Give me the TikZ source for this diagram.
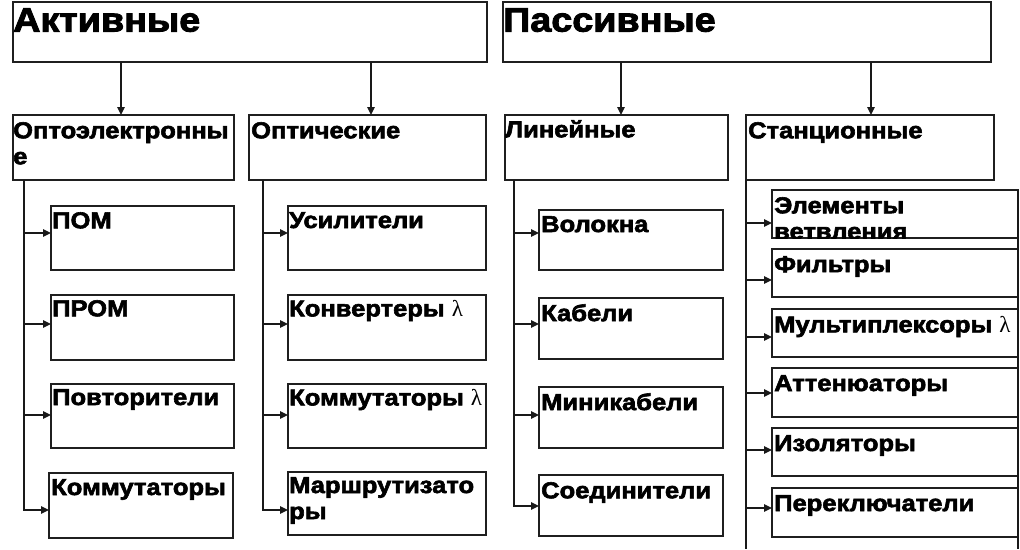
\documentclass[tikz,border=0pt]{standalone}
\usepackage{fontspec}
\setmainfont{Liberation Sans}[BoldFeatures={FakeStretch=1.11,FakeBold=2.6}]
\newfontfamily\lamfont{Liberation Serif}
\usetikzlibrary{arrows.meta}
\newcommand\mkbox[5]{\node[box, minimum width={(#4-#2)*1pt}, minimum height={(#5-#3)*1pt}] (#1) at (#2,#3) {};}
\newcommand\lam{{\lamfont\mdseries λ}}
\begin{document}
\begin{tikzpicture}[x=1pt,y=-1pt,
  box/.style={draw=black!88, line width=1.8pt, inner sep=0pt, outer sep=0pt, anchor=north west},
  conn/.style={draw=black!90, line width=1.4pt, -{Triangle[length=8pt,width=7.5pt]}},
  trunk/.style={draw=black!90, line width=1.4pt},
  big/.style={inner sep=0pt, anchor=north west, font=\bfseries\fontsize{34}{40}\selectfont},
  lbl/.style={inner sep=0pt, anchor=north west, align=left, font=\bfseries\fontsize{23}{26}\selectfont},
]
\useasboundingbox (0,0) rectangle (1020,549);
% level 1
\mkbox{act}{13}{2}{487}{62}
\mkbox{pas}{503}{2}{991}{62}
\node[big] (t-act) at (13,8) {Активные};
\node[big] (t-pas) at (503,8) {Пассивные};
% level 2
\mkbox{opto}{13}{115}{234}{180}
\mkbox{opt}{249}{115}{486}{180}
\mkbox{lin}{505}{115}{728}{180}
\mkbox{stan}{746}{115}{994}{180}
\node[lbl] (t-opto) at (13,122) {Оптоэлектронны\\е};
\node[lbl] (t-opt) at (251,122) {Оптические};
\node[lbl] (t-lin) at (505,120) {Линейные};
\node[lbl] (t-stan) at (748,122) {Станционные};
% level 3, column 1
\mkbox{pom}{51}{206}{234}{270}
\mkbox{prom}{51}{295}{234}{360}
\mkbox{povt}{51}{384}{234}{448}
\mkbox{komm}{49}{473}{233}{538}
\node[lbl] (t-pom) at (52,212) {ПОМ};
\node[lbl] (t-prom) at (52,300) {ПРОМ};
\node[lbl] (t-povt) at (52,389) {Повторители};
\node[lbl] (t-komm) at (51,479) {Коммутаторы};
% column 2
\mkbox{usil}{288}{206}{486}{270}
\mkbox{konv}{288}{295}{486}{360}
\mkbox{kommL}{288}{384}{486}{448}
\mkbox{marsh}{288}{472}{486}{535}
\node[lbl] (t-usil) at (289,212) {Усилители};
\node[lbl] (t-konv) at (289,300) {Конвертеры \lam};
\node[lbl] (t-kommL) at (289,389) {Коммутаторы \lam};
\node[lbl] (t-marsh) at (289,477) {Маршрутизато\\ры};
% column 3
\mkbox{vol}{539}{210}{723}{270}
\mkbox{kab}{539}{298}{723}{359}
\mkbox{mini}{539}{387}{723}{448}
\mkbox{soed}{539}{475}{723}{536}
\node[lbl] (t-vol) at (541,216) {Волокна};
\node[lbl] (t-kab) at (541,304) {Кабели};
\node[lbl] (t-mini) at (541,393) {Миникабели};
\node[lbl] (t-soed) at (541,482) {Соединители};
% column 4
\mkbox{elem}{772}{190}{1018}{238}
\mkbox{filt}{772}{249}{1018}{297}
\mkbox{mult}{772}{309}{1018}{357}
\mkbox{att}{772}{368}{1018}{417}
\mkbox{izol}{772}{428}{1018}{476}
\mkbox{per}{772}{488}{1018}{537}
\begin{scope}
\clip (772,190) rectangle (1018,238);
\node[lbl] (t-elem) at (774,197) {Элементы\\ветвления};
\end{scope}
\node[lbl] (t-filt) at (774,256) {Фильтры};
\node[lbl] (t-mult) at (774,316) {Мультиплексоры \lam};
\node[lbl] (t-att) at (774,375) {Аттенюаторы};
\node[lbl] (t-izol) at (774,435) {Изоляторы};
\node[lbl] (t-per) at (774,495) {Переключатели};
% coordinates for connectors
\coordinate (a1) at (121,0);
\coordinate (a2) at (371,0);
\coordinate (a3) at (621,0);
\coordinate (a4) at (871,0);
\coordinate (k1) at (24,0);
\coordinate (k2) at (263,0);
\coordinate (k3) at (514,0);
\coordinate (k4) at (746,0);
\coordinate (bot) at (0,549);
% level 1 -> level 2
\draw[conn] (act.south -| a1) -- (opto.north -| a1);
\draw[conn] (act.south -| a2) -- (opt.north -| a2);
\draw[conn] (pas.south -| a3) -- (lin.north -| a3);
\draw[conn] (pas.south -| a4) -- (stan.north -| a4);
% column 1
\draw[conn] (opto.south -| k1) |- ([yshift=5pt]pom.west);
\draw[conn] (opto.south -| k1) |- ([yshift=3.5pt]prom.west);
\draw[conn] (opto.south -| k1) |- ([yshift=1pt]povt.west);
\draw[conn] (opto.south -| k1) |- ([yshift=-4.5pt]komm.west);
% column 2
\draw[conn] (opt.south -| k2) |- ([yshift=5pt]usil.west);
\draw[conn] (opt.south -| k2) |- ([yshift=3.5pt]konv.west);
\draw[conn] (opt.south -| k2) |- ([yshift=1pt]kommL.west);
\draw[conn] (opt.south -| k2) |- ([yshift=-6.5pt]marsh.west);
% column 3
\draw[conn] (lin.south -| k3) |- ([yshift=7pt]vol.west);
\draw[conn] (lin.south -| k3) |- ([yshift=4.5pt]kab.west);
\draw[conn] (lin.south -| k3) |- ([yshift=2.5pt]mini.west);
\draw[conn] (lin.south -| k3) |- ([yshift=-0.5pt]soed.west);
% column 4
\draw[trunk] (stan.south -| k4) -- (k4 |- bot);
\draw[conn] (stan.south -| k4) |- ([yshift=-9pt]elem.west);
\draw[conn] (stan.south -| k4) |- ([yshift=-7pt]filt.west);
\draw[conn] (stan.south -| k4) |- ([yshift=-4pt]mult.west);
\draw[conn] (stan.south -| k4) |- ([yshift=-0.5pt]att.west);
\draw[conn] (stan.south -| k4) |- ([yshift=2pt]izol.west);
\draw[conn] (stan.south -| k4) |- ([yshift=4.5pt]per.west);
\draw[trunk] (elem.north east) -- (elem.north east |- bot);
\end{tikzpicture}
\end{document}
